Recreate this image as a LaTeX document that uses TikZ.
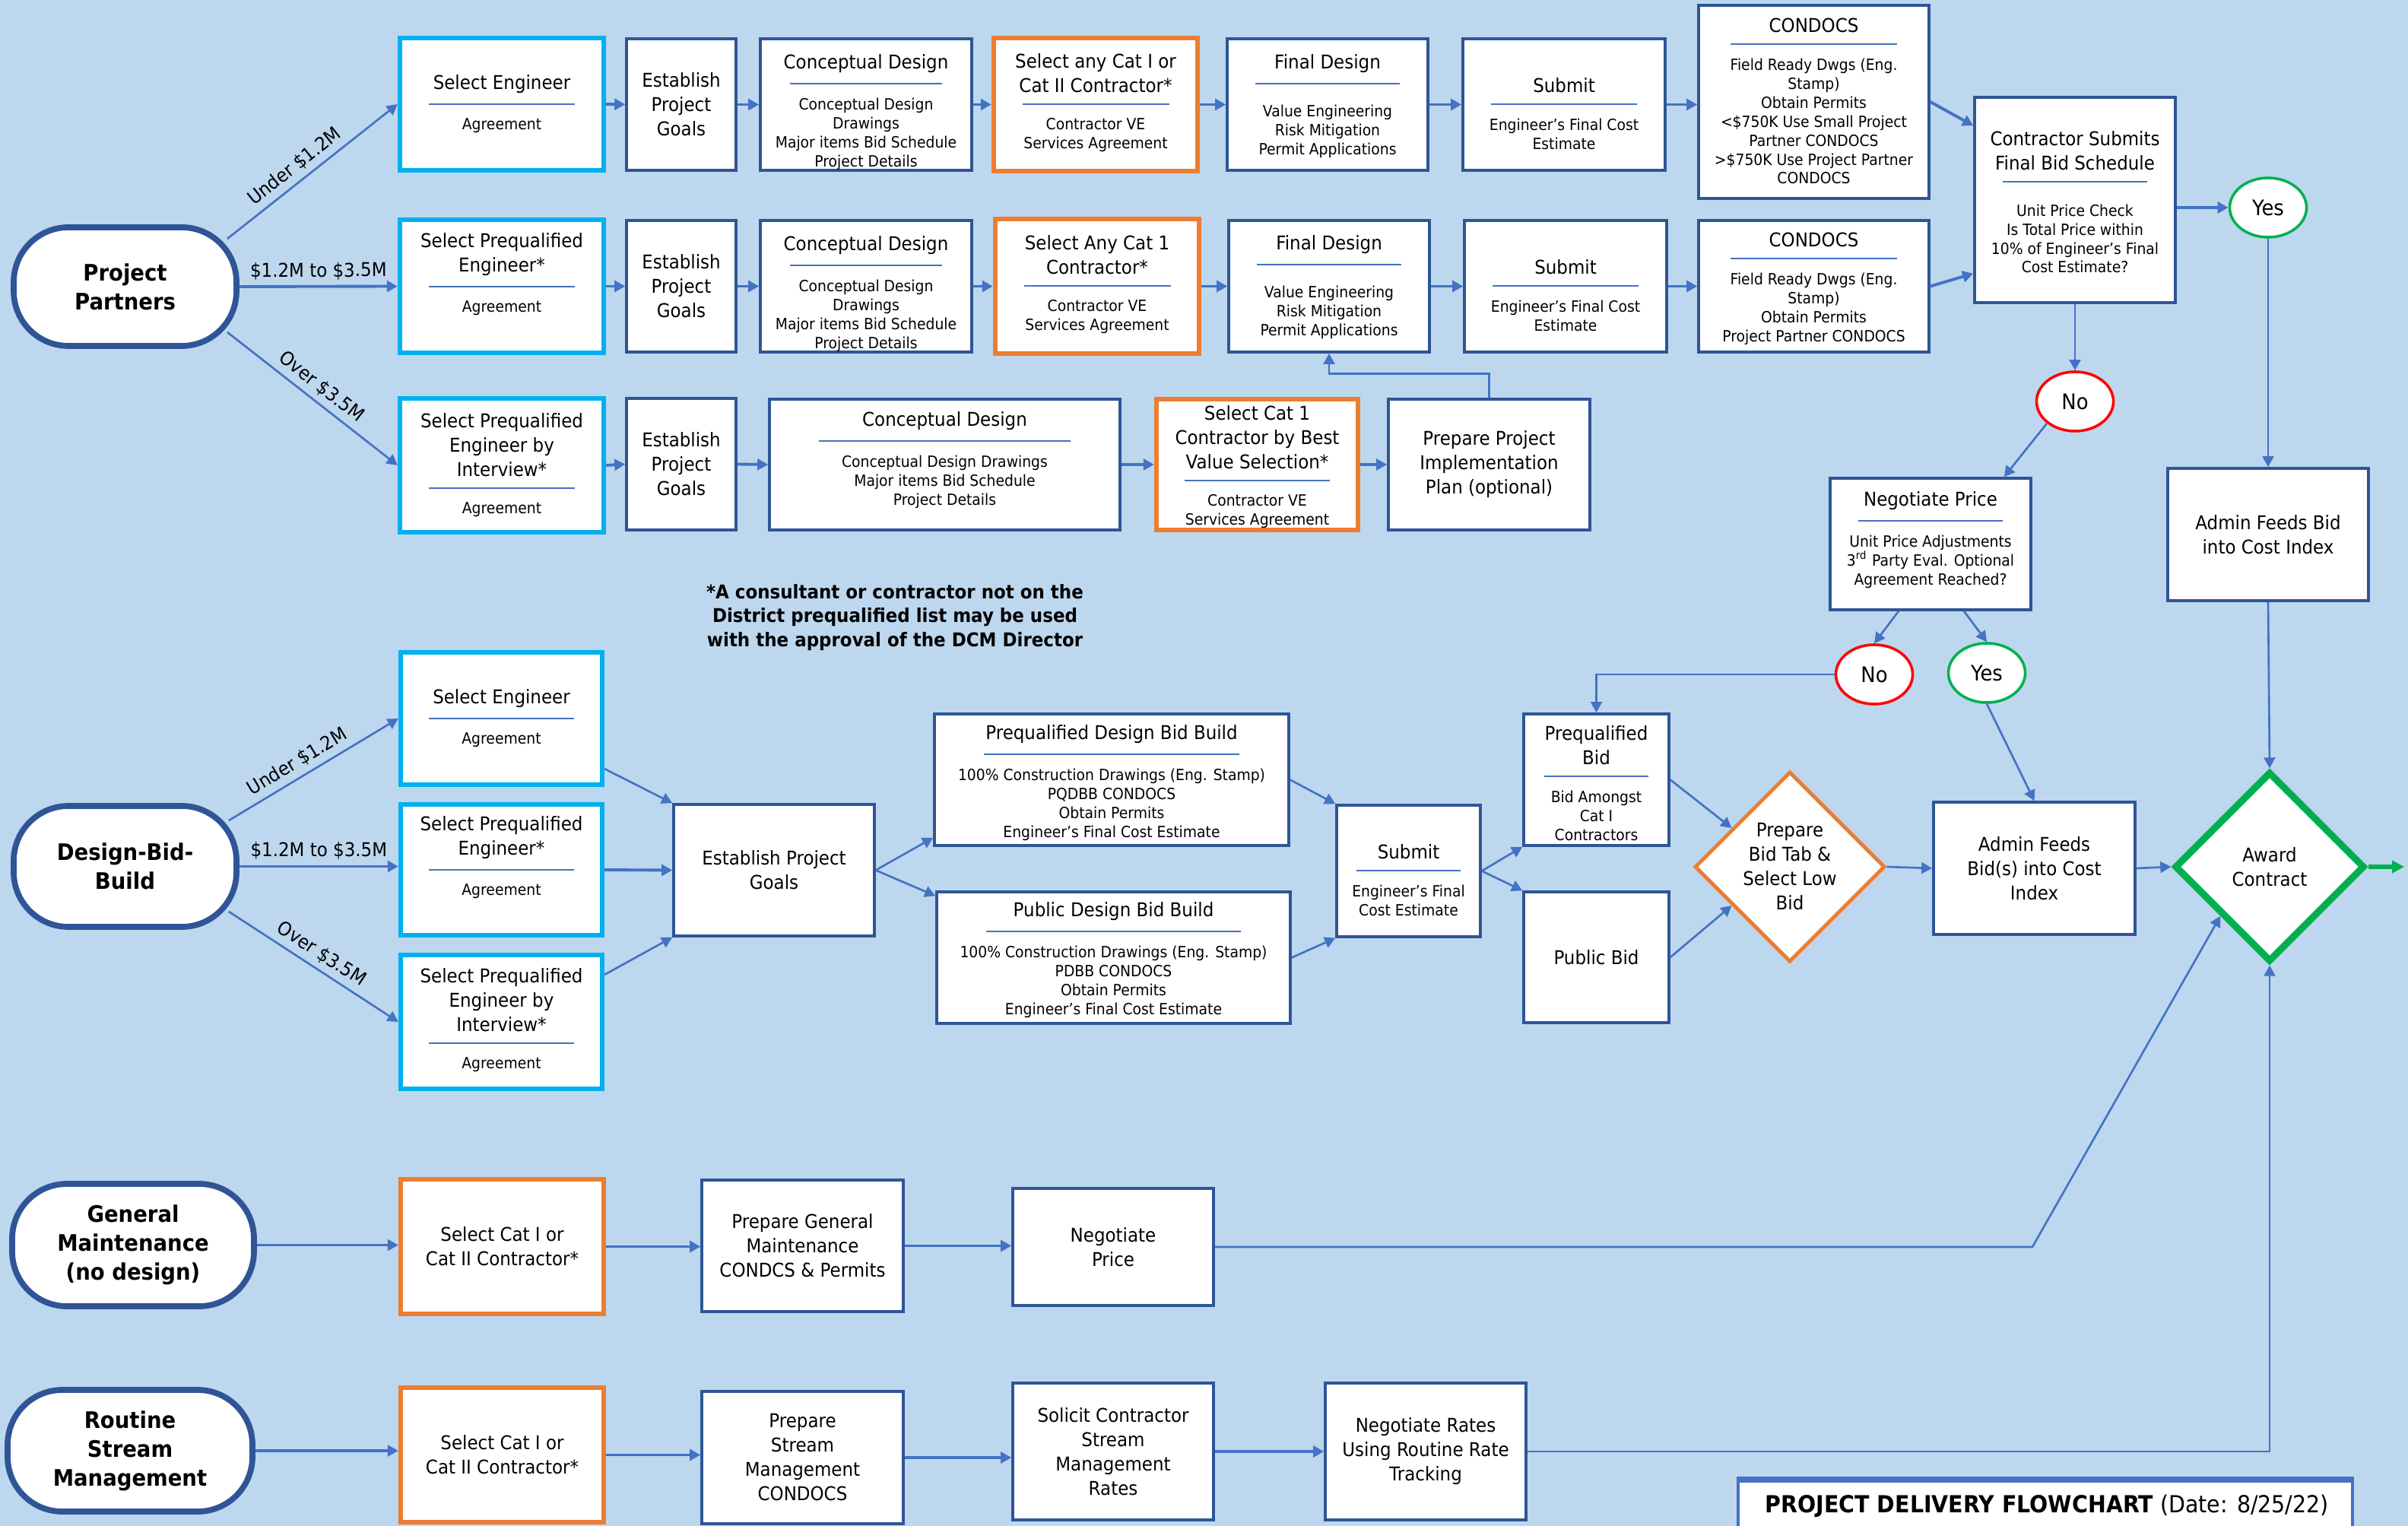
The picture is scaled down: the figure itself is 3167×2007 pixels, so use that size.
\documentclass[tikz,border=0pt]{standalone}
\usepackage{fontspec}
\setmainfont{DejaVu Sans}[FakeStretch=0.92]
\usetikzlibrary{arrows.meta,positioning,calc,fit,shapes.geometric}

\definecolor{bgblue}{RGB}{189,215,238}
\definecolor{boxblue}{RGB}{47,85,151}
\definecolor{linkblue}{RGB}{68,114,196}
\definecolor{cyanedge}{RGB}{0,176,240}
\definecolor{orangeedge}{RGB}{237,125,49}
\definecolor{greenedge}{RGB}{0,176,80}
\definecolor{rededge}{RGB}{255,0,0}

\newcommand\mainfs{\fontsize{7.1}{9.1}\selectfont}
\newcommand\smallfs{\fontsize{5.8}{7.1}\selectfont}
\newcommand\bigfs{\fontsize{8.5}{10.8}\selectfont\bfseries}

\tikzset{
    box/.style={draw=boxblue, line width=1pt, fill=white, inner sep=0pt},
    cyanbox/.style={box, draw=cyanedge, line width=1.8pt},
    orangebox/.style={box, draw=orangeedge, line width=1.8pt},
    startbox/.style={box, line width=2.2pt, rounded corners=0.72cm},
    decision/.style={diamond, fill=white, inner sep=0pt, align=center, font=\mainfs, minimum width=2.5cm, minimum height=2.5cm},
    answer/.style={ellipse, draw=#1, line width=1pt, fill=white, inner sep=0pt, minimum width=1.01cm, minimum height=0.78cm, font=\fontsize{8}{9}\selectfont},
    divider/.style={draw=linkblue, line width=0.6pt},
    headtext/.style={inner sep=0pt, align=center, font=\mainfs},
    subtext/.style={inner sep=0pt, align=center, font=\smallfs},
    arr/.style={-{Triangle[length=4pt,width=4.2pt]}, draw=linkblue, line width=1.1pt},
    tarr/.style={arr, line width=0.75pt},
    garr/.style={-{Triangle[length=4.5pt,width=4.5pt]}, draw=greenedge, line width=1.8pt},
    pricelabel/.style={font=\mainfs, sloped, above, inner sep=2pt},
}

% box with one centred text
\newcommand\plainbox[8][]{%
    \node[#3, fit={(#4,#5)(#6,#7)}] (#2) {};
    \node[headtext, #1] (#2t) at (#2.center) {#8};
}
% box with heading, rule and small text below
\newcommand\splitbox[9]{%
    \node[#2, fit={(#3,#4)(#5,#6)}] (#1) {};
    \draw[divider] ({#3+0.14*(#5-#3)},#7) -- ({#5-0.14*(#5-#3)},#7);
    \node[headtext, anchor=south] (#1t) at ({(#3+#5)/2},{#7-14}) {#8};
    \node[subtext, anchor=north] (#1s) at ({(#3+#5)/2},{#7+18}) {#9};
}

\begin{document}
\begin{tikzpicture}[x=0.01cm, y=-0.01cm]
    \fill[bgblue] (0,0) rectangle (3167,2007);
    \useasboundingbox (0,0) rectangle (3167,2007);

    % project partners
    \plainbox[font=\bigfs]{pp}{startbox}{18}{299}{311}{455}{Project\\Partners}
    \splitbox{se1}{cyanbox}{526}{50}{794}{224}{137}{Select Engineer}{Agreement}
    \plainbox{epg1}{box}{824}{51}{968}{224}{Establish\\Project\\Goals}
    \splitbox{cd1}{box}{1000}{51}{1278}{224}{110}{Conceptual Design}{Conceptual Design\\Drawings\\Major items Bid Schedule\\Project Details}
    \splitbox{sc1}{orangebox}{1307}{50}{1575}{225}{137}{Select any Cat I or\\Cat II Contractor*}{Contractor VE\\Services Agreement}
    \splitbox{fd1}{box}{1614}{51}{1878}{224}{110}{Final Design}{\rule{0pt}{7pt}Value Engineering\\Risk Mitigation\\Permit Applications}
    \splitbox{sb1}{box}{1924}{51}{2190}{224}{137}{Submit}{Engineer’s Final Cost\\Estimate}
    \splitbox{cn1}{box}{2234}{7}{2537}{261}{58}{CONDOCS}{Field Ready Dwgs (Eng.\\Stamp)\\Obtain Permits\\<\$750K Use Small Project\\Partner CONDOCS\\>\$750K Use Project Partner\\CONDOCS}

    \splitbox{se2}{cyanbox}{526}{289}{794}{464}{377}{Select Prequalified\\Engineer*}{Agreement}
    \plainbox{epg2}{box}{824}{290}{968}{463}{Establish\\Project\\Goals}
    \splitbox{cd2}{box}{1000}{290}{1278}{463}{349}{Conceptual Design}{Conceptual Design\\Drawings\\Major items Bid Schedule\\Project Details}
    \splitbox{sc2}{orangebox}{1309}{288}{1577}{465}{376}{Select Any Cat 1\\Contractor*}{Contractor VE\\Services Agreement}
    \splitbox{fd2}{box}{1616}{290}{1880}{463}{348}{Final Design}{\rule{0pt}{7pt}Value Engineering\\Risk Mitigation\\Permit Applications}
    \splitbox{sb2}{box}{1926}{290}{2192}{463}{376}{Submit}{Engineer’s Final Cost\\Estimate}
    \splitbox{cn2}{box}{2234}{290}{2537}{463}{340}{CONDOCS}{Field Ready Dwgs (Eng.\\Stamp)\\Obtain Permits\\Project Partner CONDOCS}

    \splitbox{se3}{cyanbox}{526}{524}{794}{700}{642}{Select Prequalified\\Engineer by\\Interview*}{Agreement}
    \plainbox{epg3}{box}{824}{524}{968}{697}{Establish\\Project\\Goals}
    \splitbox{cd3}{box}{1012}{525}{1473}{697}{580}{Conceptual Design}{Conceptual Design Drawings\\Major items Bid Schedule\\Project Details}
    \splitbox{sc3}{orangebox}{1521}{525}{1786}{697}{632}{Select Cat 1\\Contractor by Best\\Value Selection*}{Contractor VE\\Services Agreement}
    \plainbox{ppi}{box}{1826}{525}{2091}{697}{Prepare Project\\Implementation\\Plan (optional)}

    \splitbox{csb}{box}{2597}{128}{2861}{398}{239}{Contractor Submits\\Final Bid Schedule}{\rule{0pt}{7.5pt}Unit Price Check\\Is Total Price within\\10\% of Engineer’s Final\\Cost Estimate?}
    \node[answer=greenedge] (yes1) at (2983,273) {Yes};
    \node[answer=rededge] (no1) at (2729,528) {No};
    \splitbox{np}{box}{2407}{629}{2671}{802}{685}{Negotiate Price}{Unit Price Adjustments\\3\textsuperscript{rd} Party Eval. Optional\\Agreement Reached?}
    \node[answer=rededge] (no2) at (2465,887) {No};
    \node[answer=greenedge] (yes2) at (2613,885) {Yes};
    \plainbox{afb}{box}{2851}{616}{3115}{790}{Admin Feeds Bid\\into Cost Index}

    \node[font=\fontsize{7.1}{9}\selectfont\bfseries, align=center, inner sep=0pt] (note) at (1177,812)
        {*A consultant or contractor not on the\\District prequalified list may be used\\with the approval of the DCM Director};

    \draw[tarr] ($(pp.north east)+(-16,19)$) -- node[pricelabel, pos=0.45] (lbl1) {Under \$1.2M} (se1.west);
    \draw[arr] (pp.east) -- node[pricelabel] (lbl2) {\$1.2M to \$3.5M} (se2.west);
    \draw[tarr] ($(pp.south east)+(-16,-22)$) -- node[pricelabel] (lbl3) {Over \$3.5M} (se3.west);

    \draw[arr] (se1.east) -- (epg1.west);
    \draw[arr] (epg1.east) -- (cd1.west);
    \draw[arr] (cd1.east) -- (sc1.west);
    \draw[arr] (sc1.east) -- (fd1.west);
    \draw[arr] (fd1.east) -- (sb1.west);
    \draw[arr] (sb1.east) -- (sb1.east -| cn1.west);
    \draw[arr] (se2.east) -- (epg2.west);
    \draw[arr] (epg2.east) -- (cd2.west);
    \draw[arr] (cd2.east) -- (sc2.west);
    \draw[arr] (sc2.east) -- (fd2.west);
    \draw[arr] (fd2.east) -- (sb2.west);
    \draw[arr] (sb2.east) -- (cn2.west);
    \draw[arr] (se3.east) -- (epg3.west);
    \draw[arr] (epg3.east) -- (cd3.west);
    \draw[arr] (cd3.east) -- (sc3.west);
    \draw[arr] (sc3.east) -- (ppi.west);
    \draw[tarr] (ppi.north) -- ++(0,-32) -| (fd2.south);
    \draw[arr] (cn1.east) -- ($(csb.north west)+(0,39)$);
    \draw[arr] (cn2.east) -- ($(csb.south west)+(0,-40)$);
    \draw[arr] (yes1.west -| csb.east) -- (yes1.west);
    \draw[tarr] (csb.south) -- (no1.north);
    \draw[tarr] (yes1.south) -- (afb.north);
    \draw[tarr] (no1.south west) -- ($(np.north east)+(-37,0)$);
    \draw[tarr] ($(np.south)+(-42,0)$) -- (no2.north);
    \draw[tarr] ($(np.south)+(44,0)$) -- (yes2.north);

    % design bid build
    \plainbox[font=\bigfs]{dbb}{startbox}{18}{1060}{311}{1219}{Design-Bid-\\Build}
    \splitbox{se4}{cyanbox}{527}{858}{792}{1032}{945}{Select Engineer}{Agreement}
    \splitbox{se5}{cyanbox}{527}{1058}{792}{1230}{1144}{Select Prequalified\\Engineer*}{Agreement}
    \splitbox{se6}{cyanbox}{527}{1256}{792}{1432}{1372}{Select Prequalified\\Engineer by\\Interview*}{Agreement}
    \plainbox{epg4}{box}{886}{1058}{1150}{1231}{Establish Project\\Goals}
    \splitbox{pqdbb}{box}{1229}{939}{1695}{1112}{992}{Prequalified Design Bid Build}{100\% Construction Drawings (Eng. Stamp)\\PQDBB CONDOCS\\Obtain Permits\\Engineer’s Final Cost Estimate}
    \splitbox{pdbb}{box}{1232}{1173}{1697}{1346}{1225}{Public Design Bid Build}{100\% Construction Drawings (Eng. Stamp)\\PDBB CONDOCS\\Obtain Permits\\Engineer’s Final Cost Estimate}
    \splitbox{sb3}{box}{1758}{1059}{1947}{1232}{1145}{Submit}{Engineer’s Final\\Cost Estimate}
    \splitbox{pqb}{box}{2004}{939}{2195}{1112}{1021}{Prequalified\\Bid}{Bid Amongst\\Cat I\\Contractors}
    \plainbox{pub}{box}{2004}{1173}{2195}{1345}{Public Bid}
    \node[decision, draw=orangeedge, line width=1.4pt] (pbt) at (2354,1140) {Prepare\\Bid Tab \&\\Select Low\\Bid};
    \plainbox{abc}{box}{2543}{1055}{2808}{1229}{Admin Feeds\\Bid(s) into Cost\\Index}
    \node[decision, draw=greenedge, line width=2.6pt] (ac) at (2985,1140) {Award\\Contract};
    \coordinate (acout) at (3162,1140);

    \draw[tarr] ($(dbb.north east)+(-14,23)$) -- node[pricelabel, pos=0.45] (lbl4) {Under \$1.2M} (se4.west);
    \draw[arr] (dbb.east) -- node[pricelabel] (lbl5) {\$1.2M to \$3.5M} (dbb.east -| se5.west);
    \draw[tarr] ($(dbb.south east)+(-14,-24)$) -- node[pricelabel] (lbl6) {Over \$3.5M} (se6.west);
    \draw[tarr] ($(se4.south east)+(0,-24)$) -- (epg4.north west);
    \draw[arr] (se5.east) -- (epg4.west);
    \draw[tarr] ($(se6.north east)+(0,29)$) -- (epg4.south west);
    \draw[tarr] (epg4.east) -- ($(pqdbb.south west)+(0,-12)$);
    \draw[tarr] (epg4.east) -- ($(pdbb.north west)+(0,7)$);
    \draw[tarr] (pqdbb.east) -- (sb3.north west);
    \draw[tarr] (pdbb.east) -- (sb3.south west);
    \draw[tarr] (sb3.east) -- (pqb.south west);
    \draw[tarr] (sb3.east) -- (pub.north west);
    \draw[tarr] (pqb.east) -- ($(pbt.west)!0.4!(pbt.north)$);
    \draw[tarr] (pub.east) -- ($(pbt.west)!0.4!(pbt.south)$);
    \draw[tarr] (pbt.east) -- (abc.west);
    \draw[tarr] (abc.east) -- (ac.west);
    \draw[garr] (ac.east) -- (acout);
    \draw[tarr] (afb.south) -- (ac.north);
    \draw[tarr] (no2.west) -| (pqb.north);
    \draw[tarr] (yes2.south) -- (abc.north);

    % general maintenance
    \plainbox[font=\bigfs]{gm}{startbox}{16}{1557}{334}{1718}{General\\Maintenance\\(no design)}
    \plainbox{sc4}{orangebox}{527}{1551}{794}{1728}{Select Cat I or\\Cat II Contractor*}
    \plainbox{pgm}{box}{923}{1552}{1188}{1725}{Prepare General\\Maintenance\\CONDCS \& Permits}
    \plainbox{np2}{box}{1332}{1563}{1596}{1717}{Negotiate\\Price}
    \coordinate (np2bend) at (2673,1640);
    \draw[arr] (gm.east) -- (gm.east -| sc4.west);
    \draw[arr] (sc4.east) -- (sc4.east -| pgm.west);
    \draw[arr] (pgm.east) -- (pgm.east -| np2.west);
    \draw[tarr] (np2.east) -- (np2bend) -- ($(ac.west)!0.5!(ac.south)$);

    % routine stream management
    \plainbox[font=\bigfs]{rsm}{startbox}{10}{1828}{332}{1988}{Routine\\Stream\\Management}
    \plainbox{sc5}{orangebox}{527}{1825}{794}{2002}{Select Cat I or\\Cat II Contractor*}
    \plainbox{psm}{box}{923}{1830}{1188}{2004}{Prepare\\Stream\\Management\\CONDOCS}
    \plainbox{scs}{box}{1332}{1819}{1596}{1999}{Solicit Contractor\\Stream\\Management\\Rates}
    \plainbox{nrr}{box}{1743}{1819}{2007}{1999}{Negotiate Rates\\Using Routine Rate\\Tracking}
    \draw[arr] (rsm.east) -- (rsm.east -| sc5.west);
    \draw[arr] (sc5.east) -- (sc5.east -| psm.west);
    \draw[arr] (psm.east) -- (psm.east -| scs.west);
    \draw[arr] (scs.east) -- (nrr.west);
    \draw[tarr] (nrr.east) -| (ac.south);

    % title
    \node[box, draw=linkblue, fit={(2286,1948)(3094,2040)}] (ttlbox) {};
    \draw[linkblue, line width=2.4pt] (ttlbox.north west) -- (ttlbox.north east);
    \node[anchor=west, inner sep=0pt, font=\fontsize{8.8}{10}\selectfont] (ttl) at (2321,1981) {\textbf{PROJECT DELIVERY FLOWCHART} (Date: 8/25/22)};
\end{tikzpicture}
\end{document}
